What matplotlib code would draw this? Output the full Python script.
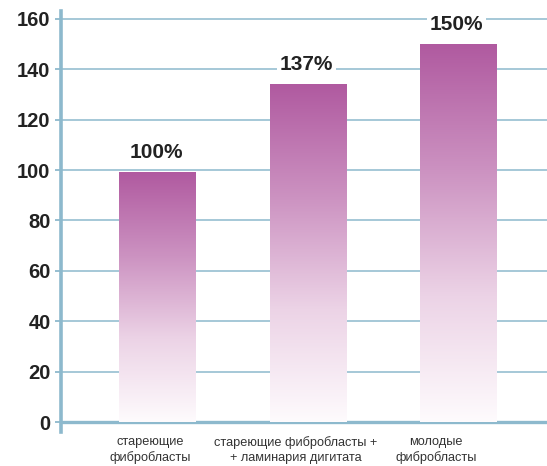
import numpy as np
import matplotlib
matplotlib.use("Agg")
import matplotlib.pyplot as plt
from matplotlib.colors import LinearSegmentedColormap

plt.rcParams["font.family"] = ["Liberation Sans", "DejaVu Sans"]

# data
categories = ["стареющие\nфибробласты",
              "стареющие фибробласты +\n+ ламинария дигитата",
              "молодые\nфибробласты"]
heights = [99, 134, 150]
labels = ["100%", "137%", "150%"]
yticks = [0, 20, 40, 60, 80, 100, 120, 140, 160]

LINE = "#8db9cd"
TOP = "#b05aa0"
cmap = LinearSegmentedColormap.from_list("fade", ["#fefbfd", "#ecd3e6", "#cc92c1", TOP])

fig = plt.figure(figsize=(5.47, 4.66), dpi=100)
ax = fig.add_axes([61 / 547, 44 / 466 - 4 * 2.52 / 466, 1 - 61 / 547, (167 * 2.52) / 466])
ax.set_xlim(-0.643, 2.59)
ax.set_ylim(-4, 163)

for y in yticks:
    ax.axhline(y, color=LINE, lw=1.1 if y else 2.4, zorder=1)

grad = np.linspace(0, 1, 256).reshape(-1, 1)
width = 0.51
for i, h in enumerate(heights):
    ax.imshow(grad, cmap=cmap, origin="lower", aspect="auto",
              extent=(i - width / 2, i + width / 2, 0, h), zorder=2)
    ax.text(i - 0.01, h + 4, labels[i], ha="center", va="bottom", fontsize=15,
            fontweight="bold", color="#222222", zorder=3,
            bbox=dict(facecolor="white", edgecolor="none", pad=2))

label_shift = [-0.05, -0.08, -0.15]
for i, c in enumerate(categories):
    ax.text(i + label_shift[i], -5.5, c, ha="center", va="top", fontsize=9.2,
            color="#333333", linespacing=1.35)

ax.set_xticks([])
ax.set_yticks(yticks)
ax.set_yticklabels([str(v) for v in yticks], fontsize=14.5, fontweight="bold", color="#222222")
ax.tick_params(axis="y", length=4.5, width=1.3, color=LINE, pad=3)
for s in ["top", "right", "bottom"]:
    ax.spines[s].set_visible(False)
ax.spines["left"].set_color(LINE)
ax.spines["left"].set_linewidth(2.6)

fig.savefig("out.png", dpi=100)
